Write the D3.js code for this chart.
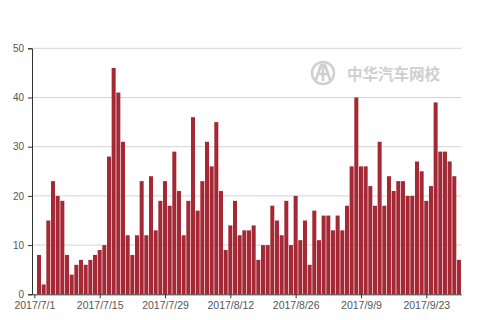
<!DOCTYPE html>
<html>
<head>
<meta charset="utf-8">
<script src="https://cdn.jsdelivr.net/npm/d3@7"></script>
<style>
  html, body { margin: 0; padding: 0; background: #fff; }
  svg { display: block; font-family: "Open Sans", "Noto Sans", sans-serif; }
</style>
</head>
<body>
<svg id="chart" width="480" height="320"></svg>
<script>
// Categories: daily dates (2017)
const categories = [
  "2017-07-02","2017-07-03","2017-07-04","2017-07-05","2017-07-06","2017-07-07","2017-07-08","2017-07-09","2017-07-10","2017-07-11",
  "2017-07-12","2017-07-13","2017-07-14","2017-07-15","2017-07-16","2017-07-17","2017-07-18","2017-07-19","2017-07-20","2017-07-21",
  "2017-07-22","2017-07-23","2017-07-24","2017-07-25","2017-07-26","2017-07-27","2017-07-28","2017-07-29","2017-07-30","2017-07-31",
  "2017-08-01","2017-08-02","2017-08-03","2017-08-04","2017-08-05","2017-08-06","2017-08-07","2017-08-08","2017-08-09","2017-08-10",
  "2017-08-11","2017-08-12","2017-08-13","2017-08-14","2017-08-15","2017-08-16","2017-08-17","2017-08-18","2017-08-19","2017-08-20",
  "2017-08-21","2017-08-22","2017-08-23","2017-08-24","2017-08-25","2017-08-26","2017-08-27","2017-08-28","2017-08-29","2017-08-30",
  "2017-08-31","2017-09-01","2017-09-02","2017-09-03","2017-09-04","2017-09-05","2017-09-06","2017-09-07","2017-09-08","2017-09-09",
  "2017-09-10","2017-09-11","2017-09-12","2017-09-13","2017-09-14","2017-09-15","2017-09-16","2017-09-17","2017-09-18","2017-09-19",
  "2017-09-20","2017-09-21","2017-09-22","2017-09-23","2017-09-24","2017-09-25","2017-09-26","2017-09-27","2017-09-28","2017-09-29",
  "2017-09-30"
];
// Series values
const values = [
  8, 2, 15, 23, 20, 19, 8, 4, 6, 7,
  6, 7, 8, 9, 10, 28, 46, 41, 31, 12,
  8, 12, 23, 12, 24, 13, 19, 23, 18, 29,
  21, 12, 19, 36, 17, 23, 31, 26, 35, 21,
  9, 14, 19, 12, 13, 13, 14, 7, 10, 10,
  18, 15, 12, 19, 10, 20, 11, 15, 6, 17,
  11, 16, 16, 13, 16, 13, 18, 26, 40, 26,
  26, 22, 18, 31, 18, 24, 21, 23, 23, 20,
  20, 27, 25, 19, 22, 39, 29, 29, 27, 24,
  7
];
// Tick labels
const xTickLabels = ["2017/7/1","2017/7/15","2017/7/29","2017/8/12","2017/8/26","2017/9/9","2017/9/23"];
const yTicks = [0, 10, 20, 30, 40, 50];
const watermarkText = "中华汽车网校";

(function () {
  const parseISO = d3.timeParse("%Y-%m-%d");
  const parseLabel = d3.timeParse("%Y/%m/%d");

  const svg = d3.select("#chart");
  const mLeft = 32, mRight = 461.3, mTop = 48.3, mBottom = 294.3;

  const x = d3.scaleTime()
    .domain([new Date(2017, 5, 30, 12), new Date(2017, 8, 30, 12)])
    .range([mLeft, mRight]);
  const y = d3.scaleLinear().domain([0, 50]).range([mBottom, mTop]);

  // Gridlines
  svg.append("g").selectAll("line")
    .data(yTicks.filter(d => d > 0))
    .join("line")
    .attr("x1", mLeft).attr("x2", mRight)
    .attr("y1", d => y(d)).attr("y2", d => y(d))
    .attr("stroke", "#d4d4d4").attr("stroke-width", 1);

  // Watermark
  const wm = svg.append("g");
  wm.append("circle").attr("cx", 323).attr("cy", 73).attr("r", 11)
    .attr("fill", "none").attr("stroke", "#d0d0d0").attr("stroke-width", 2.5);
  wm.append("path")
    .attr("d", "M315.5,81 L321,65 L325,65 L330.5,81 M318,74 L328,74 M323,66 L323,81")
    .attr("fill", "none").attr("stroke", "#d0d0d0").attr("stroke-width", 2.6);
  wm.append("text").attr("x", 347).attr("y", 79.5)
    .attr("font-family", "'Noto Sans CJK SC', sans-serif")
    .attr("font-size", 15.5).attr("font-weight", "bold")
    .attr("fill", "#cfcfcf").text(watermarkText);

  // Bars
  const dayW = x(new Date(2017, 6, 2)) - x(new Date(2017, 6, 1));
  const barW = dayW * 0.86;
  svg.append("g").selectAll("rect")
    .data(values.map((v, i) => ({ date: parseISO(categories[i]), v })))
    .join("rect")
    .attr("x", d => x(d.date) - barW / 2)
    .attr("width", barW)
    .attr("y", d => y(d.v))
    .attr("height", d => y(0) - y(d.v))
    .attr("fill", "#a52835");

  // Y axis
  const yAxis = d3.axisLeft(y).tickValues(yTicks).tickSize(4).tickPadding(4);
  const gy = svg.append("g").attr("transform", `translate(${mLeft},0)`).call(yAxis);
  gy.select(".domain").attr("stroke", "#333");
  gy.selectAll(".tick line").attr("stroke", "#333");
  gy.selectAll("text").attr("fill", "#555").attr("font-size", 10);

  // X axis
  const xAxis = d3.axisBottom(x)
    .tickValues(xTickLabels.map(parseLabel))
    .tickFormat((d, i) => xTickLabels[i])
    .tickSize(4).tickSizeOuter(0).tickPadding(3);
  const gx = svg.append("g").attr("transform", `translate(0,${mBottom})`).call(xAxis);
  gx.select(".domain").attr("stroke", "#333");
  gx.selectAll(".tick line").attr("stroke", "#333");
  gx.selectAll("text").attr("fill", "#555").attr("font-size", 10.5);
})();
</script>
</body>
</html>
